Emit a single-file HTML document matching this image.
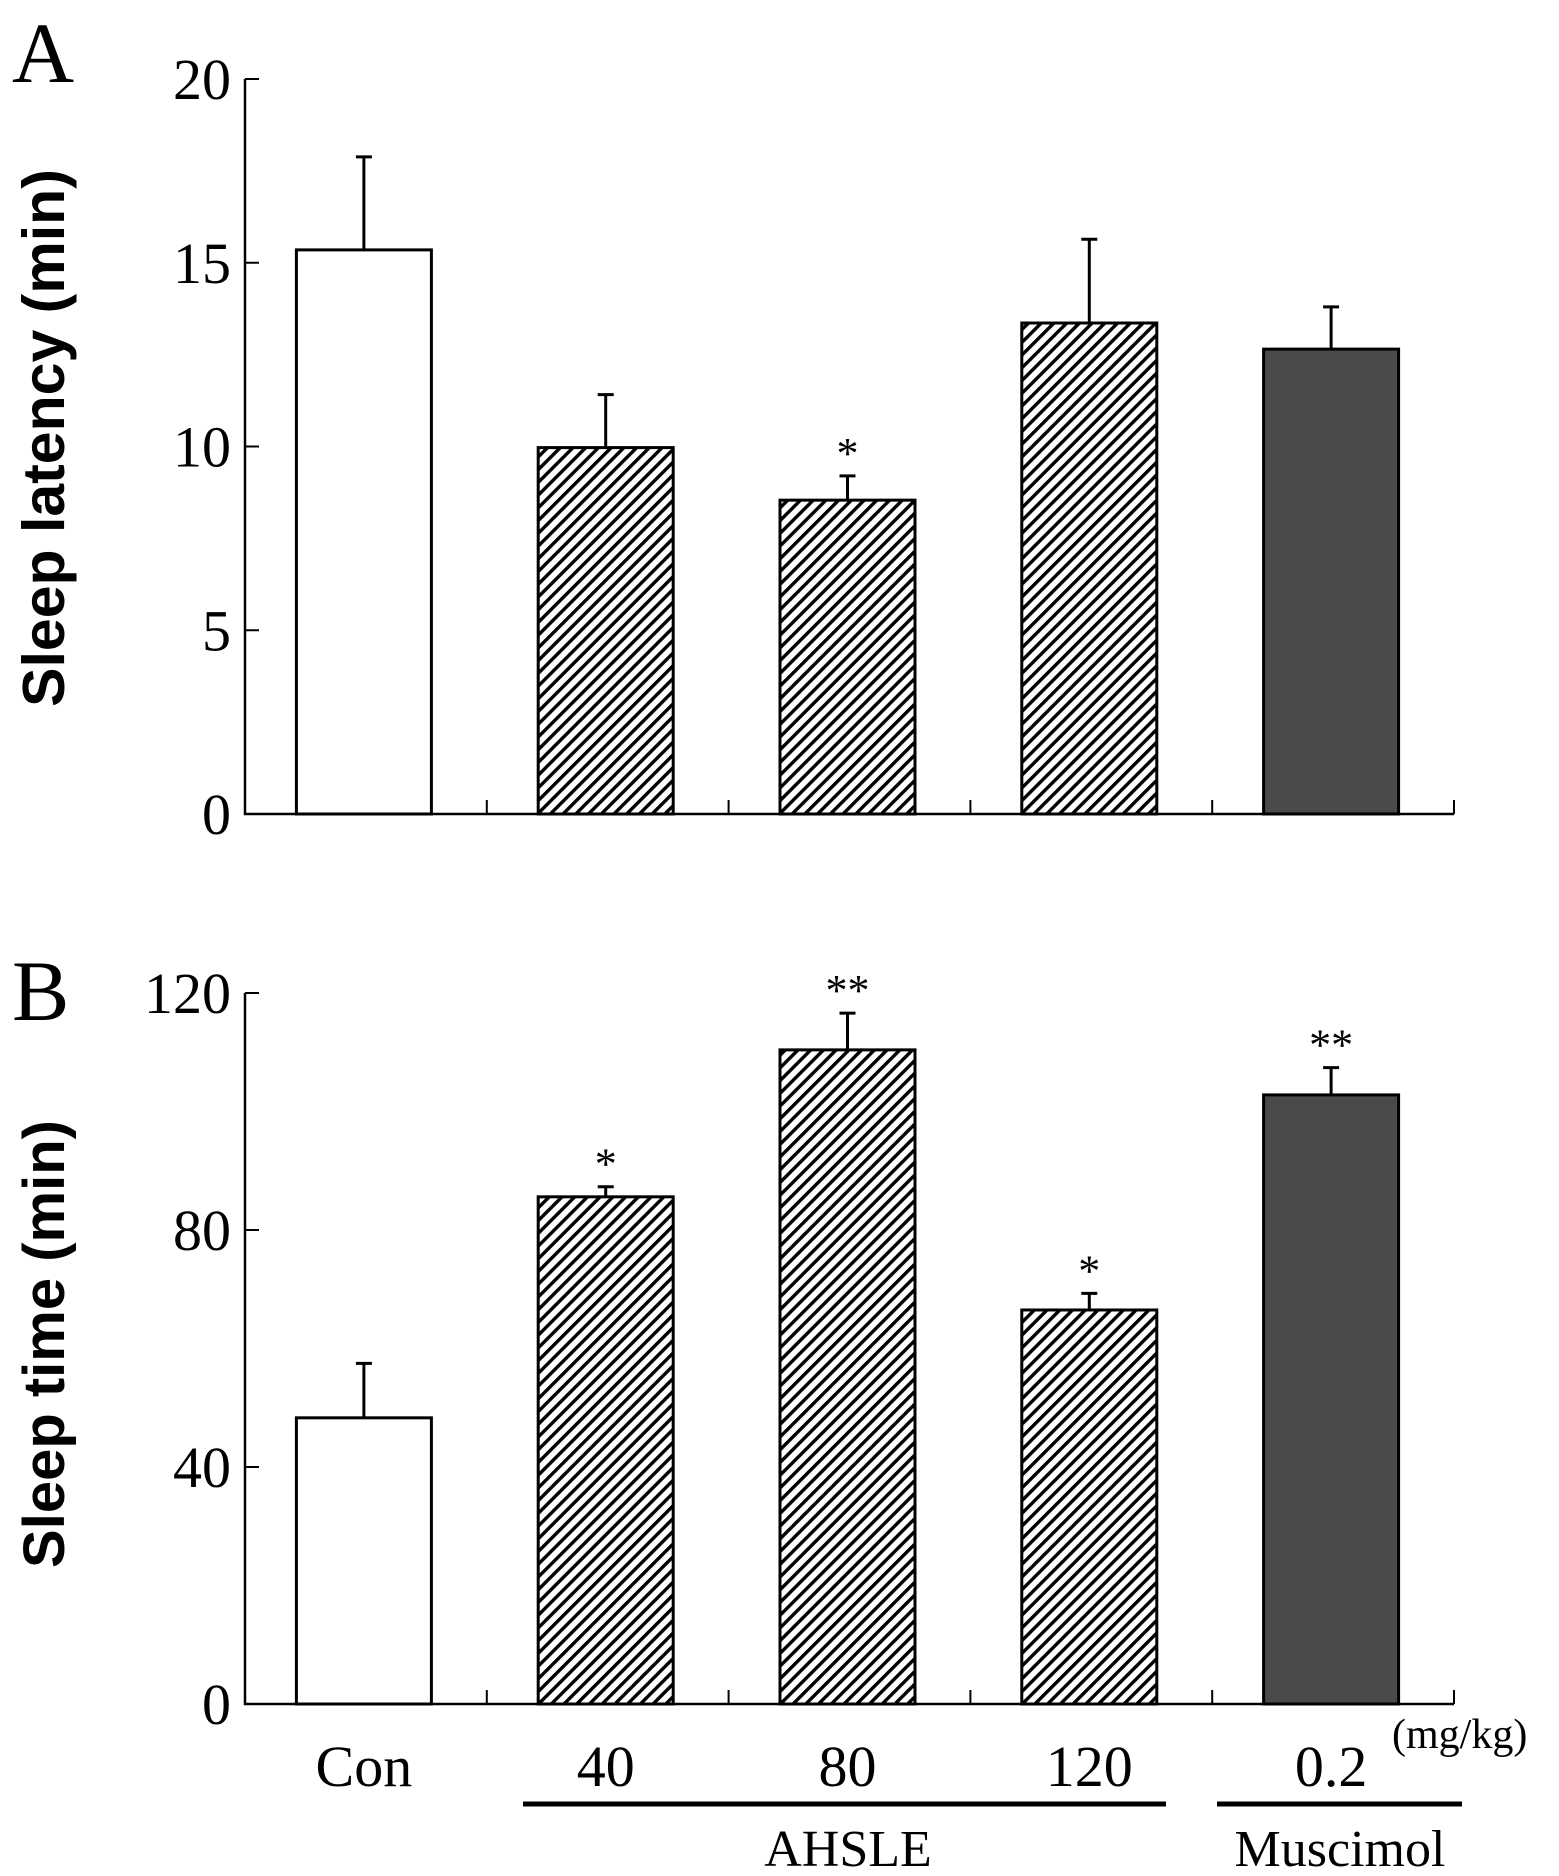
<!DOCTYPE html>
<html><head><meta charset="utf-8"><style>
html,body{margin:0;padding:0;background:#fff;}
svg{display:block;}
text{font-family:"Liberation Serif",serif;fill:#000;}
</style></head><body>
<svg id="chart" width="1559" height="1876" viewBox="0 0 1559 1876" xmlns="http://www.w3.org/2000/svg">
<defs>
<pattern id="hatch" patternUnits="userSpaceOnUse" width="9" height="9" patternTransform="rotate(45)">
<rect width="9" height="9" fill="#fff"/>
<rect x="0" y="0" width="3.4" height="9" fill="#000"/>
</pattern>
</defs>
<g id="root"></g>
</svg>
<script>
const categories = ["Con", "40", "80", "120", "0.2"];
const latencyValues = [15.35, 9.97, 8.54, 13.36, 12.65];
const latencyErrors = [2.53, 1.44, 0.66, 2.28, 1.15];
const latencyStars = ["", "", "*", "", ""];
const latencyTicks = [0, 5, 10, 15, 20];
const timeValues = [48.3, 85.6, 110.4, 66.5, 102.8];
const timeErrors = [9.2, 1.7, 6.2, 2.8, 4.6];
const timeStars = ["", "*", "**", "*", "**"];
const timeTicks = [0, 40, 80, 120];
const fills = ["white", "hatch", "hatch", "hatch", "dark"];

const NS = "http://www.w3.org/2000/svg";
const root = document.getElementById("root");
function mk(tag, attrs, parent) {
  const e = document.createElementNS(NS, tag);
  for (const k in attrs) e.setAttribute(k, attrs[k]);
  (parent || root).appendChild(e);
  return e;
}

function panel(cfg) {
  const g = mk("g", {});
  
  
  const x0 = 245, x1 = 1454, slot = (x1 - x0) / 5;
  const ymax = cfg.ticks[cfg.ticks.length - 1];
  const y = v => cfg.y0 - (v / ymax) * (cfg.y0 - cfg.yTop);
  const bx = i => x0 + slot * i + slot / 2 - 2;
  const ax = mk("path", {d: `M${x0},${y(ymax)} V${cfg.y0} H${x1}`, stroke: "#000", "stroke-width": 2.5, fill: "none"}, g);
  
  
  for (let i = 1; i <= 5; i++) {
    const t = mk("line", {x1: x0 + slot * i, x2: x0 + slot * i, y1: cfg.y0, y2: cfg.y0 - 14, stroke: "#000", "stroke-width": 2}, g);
    
    
  }
  cfg.ticks.forEach(v => {
    const t = mk("line", {x1: x0, x2: x0 + 14, y1: y(v), y2: y(v), stroke: "#000", "stroke-width": 2}, g);
    
    
    const l = mk("text", {x: 231, y: y(v) + 20, "text-anchor": "end", "font-size": 58}, g);
    l.textContent = v;
    
    
  });
  cfg.values.forEach((v, i) => {
    const w = 135, cx = bx(i);
    const top = y(v), errTop = y(v + cfg.errors[i]);
    const eb = mk("line", {x1: cx, x2: cx, y1: top, y2: errTop, stroke: "#000", "stroke-width": 3}, g);
    
    
    const cap = mk("line", {x1: cx - 8, x2: cx + 8, y1: errTop, y2: errTop, stroke: "#000", "stroke-width": 3}, g);
    
    
    const f = fills[i] === "white" ? "#fff" : fills[i] === "dark" ? "#4a4a4a" : "url(#hatch)";
    const r = mk("rect", {x: cx - w / 2, y: top, width: w, height: cfg.y0 - top, fill: f, stroke: "#000", "stroke-width": 3}, g);
    
    
    if (cfg.stars[i]) {
      const s = mk("text", {x: cx, y: errTop - 8, "text-anchor": "middle", "font-size": 44}, g);
      s.textContent = cfg.stars[i];
      
      
    }
  });
  const tt = mk("text", {x: 0, y: 0, transform: `translate(${cfg.titleX},${cfg.titleY}) rotate(-90)`, "text-anchor": "middle", "font-size": cfg.titleSize, "font-weight": "bold", style: 'font-family:"Liberation Sans",sans-serif'}, g);
  tt.textContent = cfg.title;
  
  
  const pl = mk("text", {x: 12, y: cfg.letterY, "font-size": 86}, g);
  pl.textContent = cfg.letter;
  
  
  return {bx};
}

panel({name: "panel-a-sleep-latency", y0: 814, yTop: 79, ticks: latencyTicks, values: latencyValues, errors: latencyErrors, stars: latencyStars, title: "Sleep latency (min)", titleSize: 59, titleX: 64, titleY: 438, letter: "A", letterY: 82});
const pb = panel({name: "panel-b-sleep-time", y0: 1704, yTop: 993, ticks: timeTicks, values: timeValues, errors: timeErrors, stars: timeStars, title: "Sleep time (min)", titleSize: 58, titleX: 64, titleY: 1344, letter: "B", letterY: 1020});

categories.forEach((c, i) => {
  const t = mk("text", {x: pb.bx(i), y: 1786, "text-anchor": "middle", "font-size": 58});
  t.textContent = c;
  
  
});
const unit = mk("text", {x: 1392, y: 1748, "font-size": 42});
unit.textContent = "(mg/kg)";


const l1 = mk("line", {x1: 523, x2: 1166, y1: 1804, y2: 1804, stroke: "#000", "stroke-width": 5});


const l2 = mk("line", {x1: 1217, x2: 1462, y1: 1804, y2: 1804, stroke: "#000", "stroke-width": 5});


const g1 = mk("text", {x: 848, y: 1866, "text-anchor": "middle", "font-size": 52});
g1.textContent = "AHSLE";


const g2 = mk("text", {x: 1340, y: 1866, "text-anchor": "middle", "font-size": 52});
g2.textContent = "Muscimol";


</script>
</body></html>
